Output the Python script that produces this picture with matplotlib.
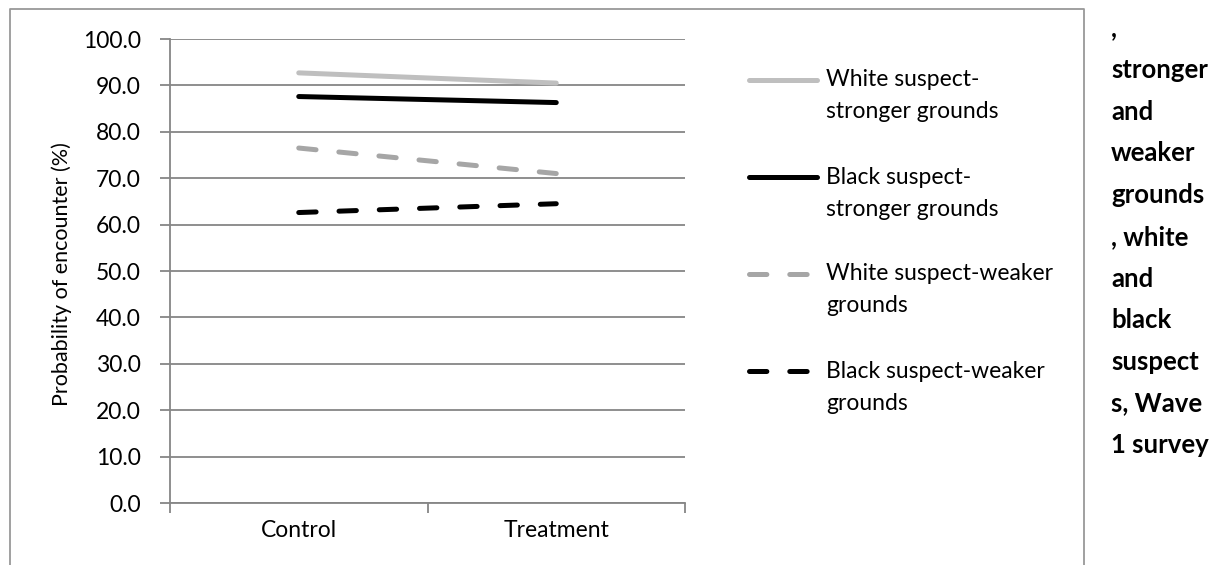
import matplotlib
matplotlib.use("Agg")
import matplotlib.pyplot as plt
from matplotlib.lines import Line2D

plt.rcParams['font.family'] = ['Lato', 'DejaVu Sans']
plt.rcParams['lines.scale_dashes'] = False

categories = ["Control", "Treatment"]
white_stronger = [92.7, 90.5]
black_stronger = [87.6, 86.3]
white_weaker = [76.5, 71.0]
black_weaker = [62.6, 64.5]
yticks = [0, 10, 20, 30, 40, 50, 60, 70, 80, 90, 100]

series = [
    (white_stronger, "#BFBFBF", None, ["White suspect-", "stronger grounds"]),
    (black_stronger, "#000000", None, ["Black suspect-", "stronger grounds"]),
    (white_weaker, "#A6A6A6", (0, (12.5, 16.5)), ["White suspect-weaker", "grounds"]),
    (black_weaker, "#000000", (0, (12.5, 16.5)), ["Black suspect-weaker", "grounds"]),
]

W, H = 1220, 565
fig = plt.figure(figsize=(W / 100, H / 100), dpi=100)
ax = fig.add_axes([170 / W, 1 - 503 / H, (685 - 170) / W, (503 - 39) / H])

x = list(range(len(categories)))
lw = 3.6
for vals, col, ls, _ in series:
    kw = dict(color=col, lw=lw, solid_capstyle='round', dash_capstyle='round', zorder=3)
    if ls is not None:
        kw['linestyle'] = ls
    ax.plot(x, vals, **kw)

grid_col = "#868686"
ax.set_xlim(-0.5, len(categories) - 0.5)
ax.set_ylim(0, 100)
ax.set_yticks(yticks)
ax.set_yticklabels([f"{v:.1f}" for v in yticks], fontsize=16.5, color="#000000")
ax.yaxis.grid(True, color=grid_col, lw=1.3)
ax.set_axisbelow(True)
ax.set_xticks([-0.5, 0.5, 1.5])
ax.set_xticklabels([])
ax.set_xticks(x, minor=True)
ax.set_xticklabels(categories, minor=True, fontsize=16.5)
ax.tick_params(axis='x', which='minor', length=0, pad=12)
ax.tick_params(axis='x', which='major', length=7, width=1.3, color=grid_col)
ax.tick_params(axis='y', length=7, width=1.3, color=grid_col, pad=14)
for s in ['top', 'right']:
    ax.spines[s].set_visible(False)
for s in ['left', 'bottom']:
    ax.spines[s].set_color(grid_col)
    ax.spines[s].set_linewidth(1.3)

fig.text(62 / W, 1 - 274 / H, "Probability of encounter (%)", rotation=90,
         ha='center', va='center', fontsize=15.5)

# legend (drawn manually to match layout)
leg_y = [80, 177, 274, 371]
for (vals, col, ls, lab), yy in zip(series, leg_y):
    kw = dict(color=col, lw=lw, solid_capstyle='round', dash_capstyle='round')
    if ls is not None:
        kw['linestyle'] = ls
    fig.add_artist(Line2D([749 / W, 817 / W], [1 - yy / H, 1 - yy / H],
                          transform=fig.transFigure, **kw))
    fig.text(826 / W, 1 - yy / H, lab[0], ha='left', va='center', fontsize=16.5)
    fig.text(826 / W, 1 - (yy + 32) / H, lab[1], ha='left', va='center', fontsize=16.5)

# chart frame
frame_col = "#999999"
fig.add_artist(Line2D([10 / W, 10 / W, 1084 / W, 1084 / W],
                      [0, 1 - 9 / H, 1 - 9 / H, 0],
                      transform=fig.transFigure, color=frame_col, lw=1.3))

# side text (bold caption fragments)
side_lines = [",", "stronger", "and", "weaker", "grounds", ", white", "and",
              "black", "suspect", "s, Wave", "1 survey"]
for k, t in enumerate(side_lines):
    yy = 36.3 + 41.7 * k
    fig.text(1111 / W, 1 - yy / H, t, ha='left', va='baseline', fontsize=18.5,
             fontweight='bold')

fig.savefig("out.png", dpi=100)
